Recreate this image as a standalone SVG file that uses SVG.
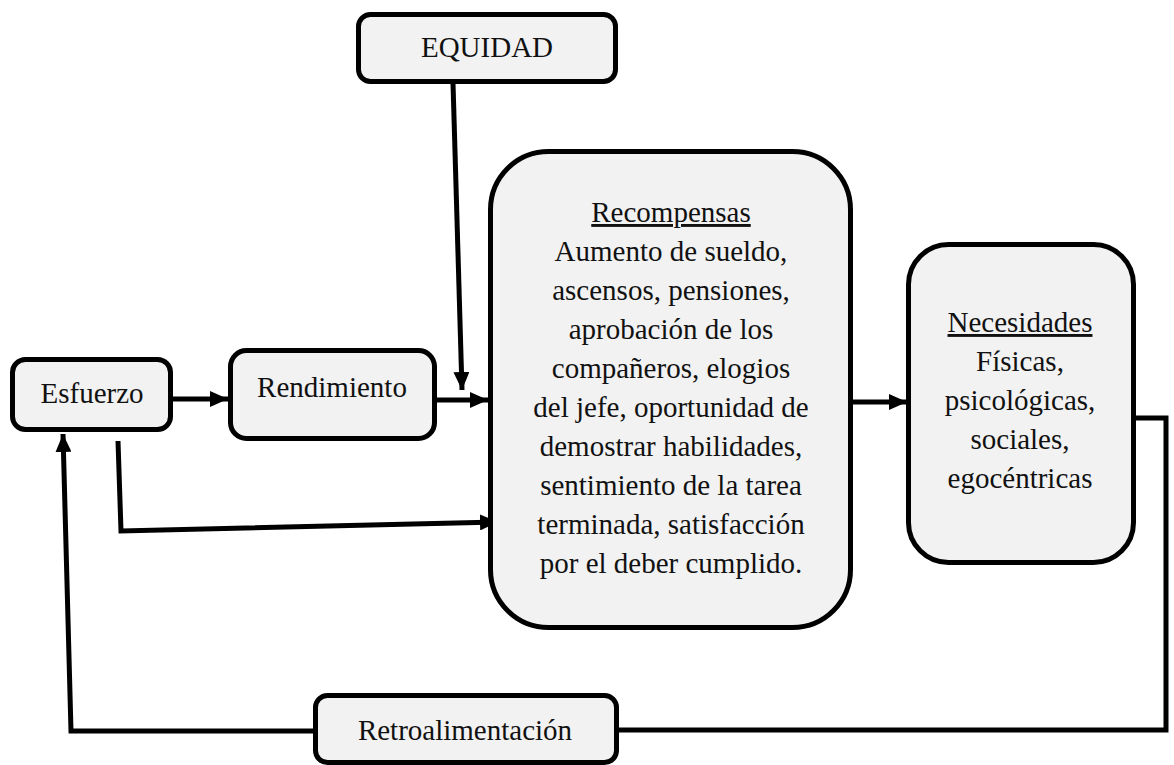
<svg xmlns="http://www.w3.org/2000/svg" width="1174" height="765" viewBox="0 0 1174 765">
<style>
.box{fill:#f2f2f2;stroke:#000;stroke-width:5}
.t{font-family:"Liberation Serif","Times New Roman",serif;font-size:29px;fill:#111;text-anchor:middle}
.u{text-decoration:underline}
.c{fill:none;stroke:#000;stroke-width:5;stroke-linejoin:miter}
</style>
<defs>
<marker id="ah" viewBox="0 0 18 16" refX="18" refY="8" markerWidth="18" markerHeight="16" markerUnits="userSpaceOnUse" orient="auto">
<path d="M0,0 L18,8 L0,16 Z" fill="#000"/>
</marker>
</defs>
<rect width="1174" height="765" fill="#fff"/>
<g id="connectors">
<path class="c" d="M173,399 L228,399" marker-end="url(#ah)"/>
<path class="c" d="M436,400 L488,400" marker-end="url(#ah)"/>
<path class="c" d="M453,83 L462,390" marker-end="url(#ah)"/>
<path class="c" d="M118,441 L121,531 L498,522" marker-end="url(#ah)"/>
<path class="c" d="M852,402 L907,402" marker-end="url(#ah)"/>
<path class="c" d="M1135,418 L1166,418 L1166,730 L619,730"/>
<path class="c" d="M314,731 L71,731 L63,434" marker-end="url(#ah)"/>
</g>
<g id="equidad">
<rect class="box" x="358.5" y="14.5" width="257" height="67" rx="12"/>
<text class="t" x="487" y="57">EQUIDAD</text>
</g>
<g id="esfuerzo">
<rect class="box" x="12.5" y="359.5" width="158" height="70" rx="13"/>
<text class="t" x="92" y="403">Esfuerzo</text>
</g>
<g id="rendimiento">
<rect class="box" x="230.5" y="350.5" width="204" height="88" rx="16"/>
<text class="t" x="332" y="397">Rendimiento</text>
</g>
<g id="recompensas">
<rect class="box" x="490.5" y="151.5" width="360" height="476" rx="58"/>
<text class="t" x="671" y="222"><tspan class="u">Recompensas</tspan></text>
<text class="t" x="671" y="261">Aumento de sueldo,</text>
<text class="t" x="671" y="300">ascensos, pensiones,</text>
<text class="t" x="671" y="339">aprobación de los</text>
<text class="t" x="671" y="378">compañeros, elogios</text>
<text class="t" x="671" y="417">del jefe, oportunidad de</text>
<text class="t" x="671" y="456">demostrar habilidades,</text>
<text class="t" x="671" y="495">sentimiento de la tarea</text>
<text class="t" x="671" y="534">terminada, satisfacción</text>
<text class="t" x="671" y="573">por el deber cumplido.</text>
</g>
<g id="necesidades">
<rect class="box" x="908.5" y="244.5" width="225" height="318" rx="40"/>
<text class="t" x="1020" y="332"><tspan class="u">Necesidades</tspan></text>
<text class="t" x="1020" y="371">Físicas,</text>
<text class="t" x="1020" y="410">psicológicas,</text>
<text class="t" x="1020" y="449">sociales,</text>
<text class="t" x="1020" y="488">egocéntricas</text>
</g>
<g id="retroalimentacion">
<rect class="box" x="315.5" y="695.5" width="301" height="67" rx="12"/>
<text class="t" x="465" y="740">Retroalimentación</text>
</g>
</svg>
